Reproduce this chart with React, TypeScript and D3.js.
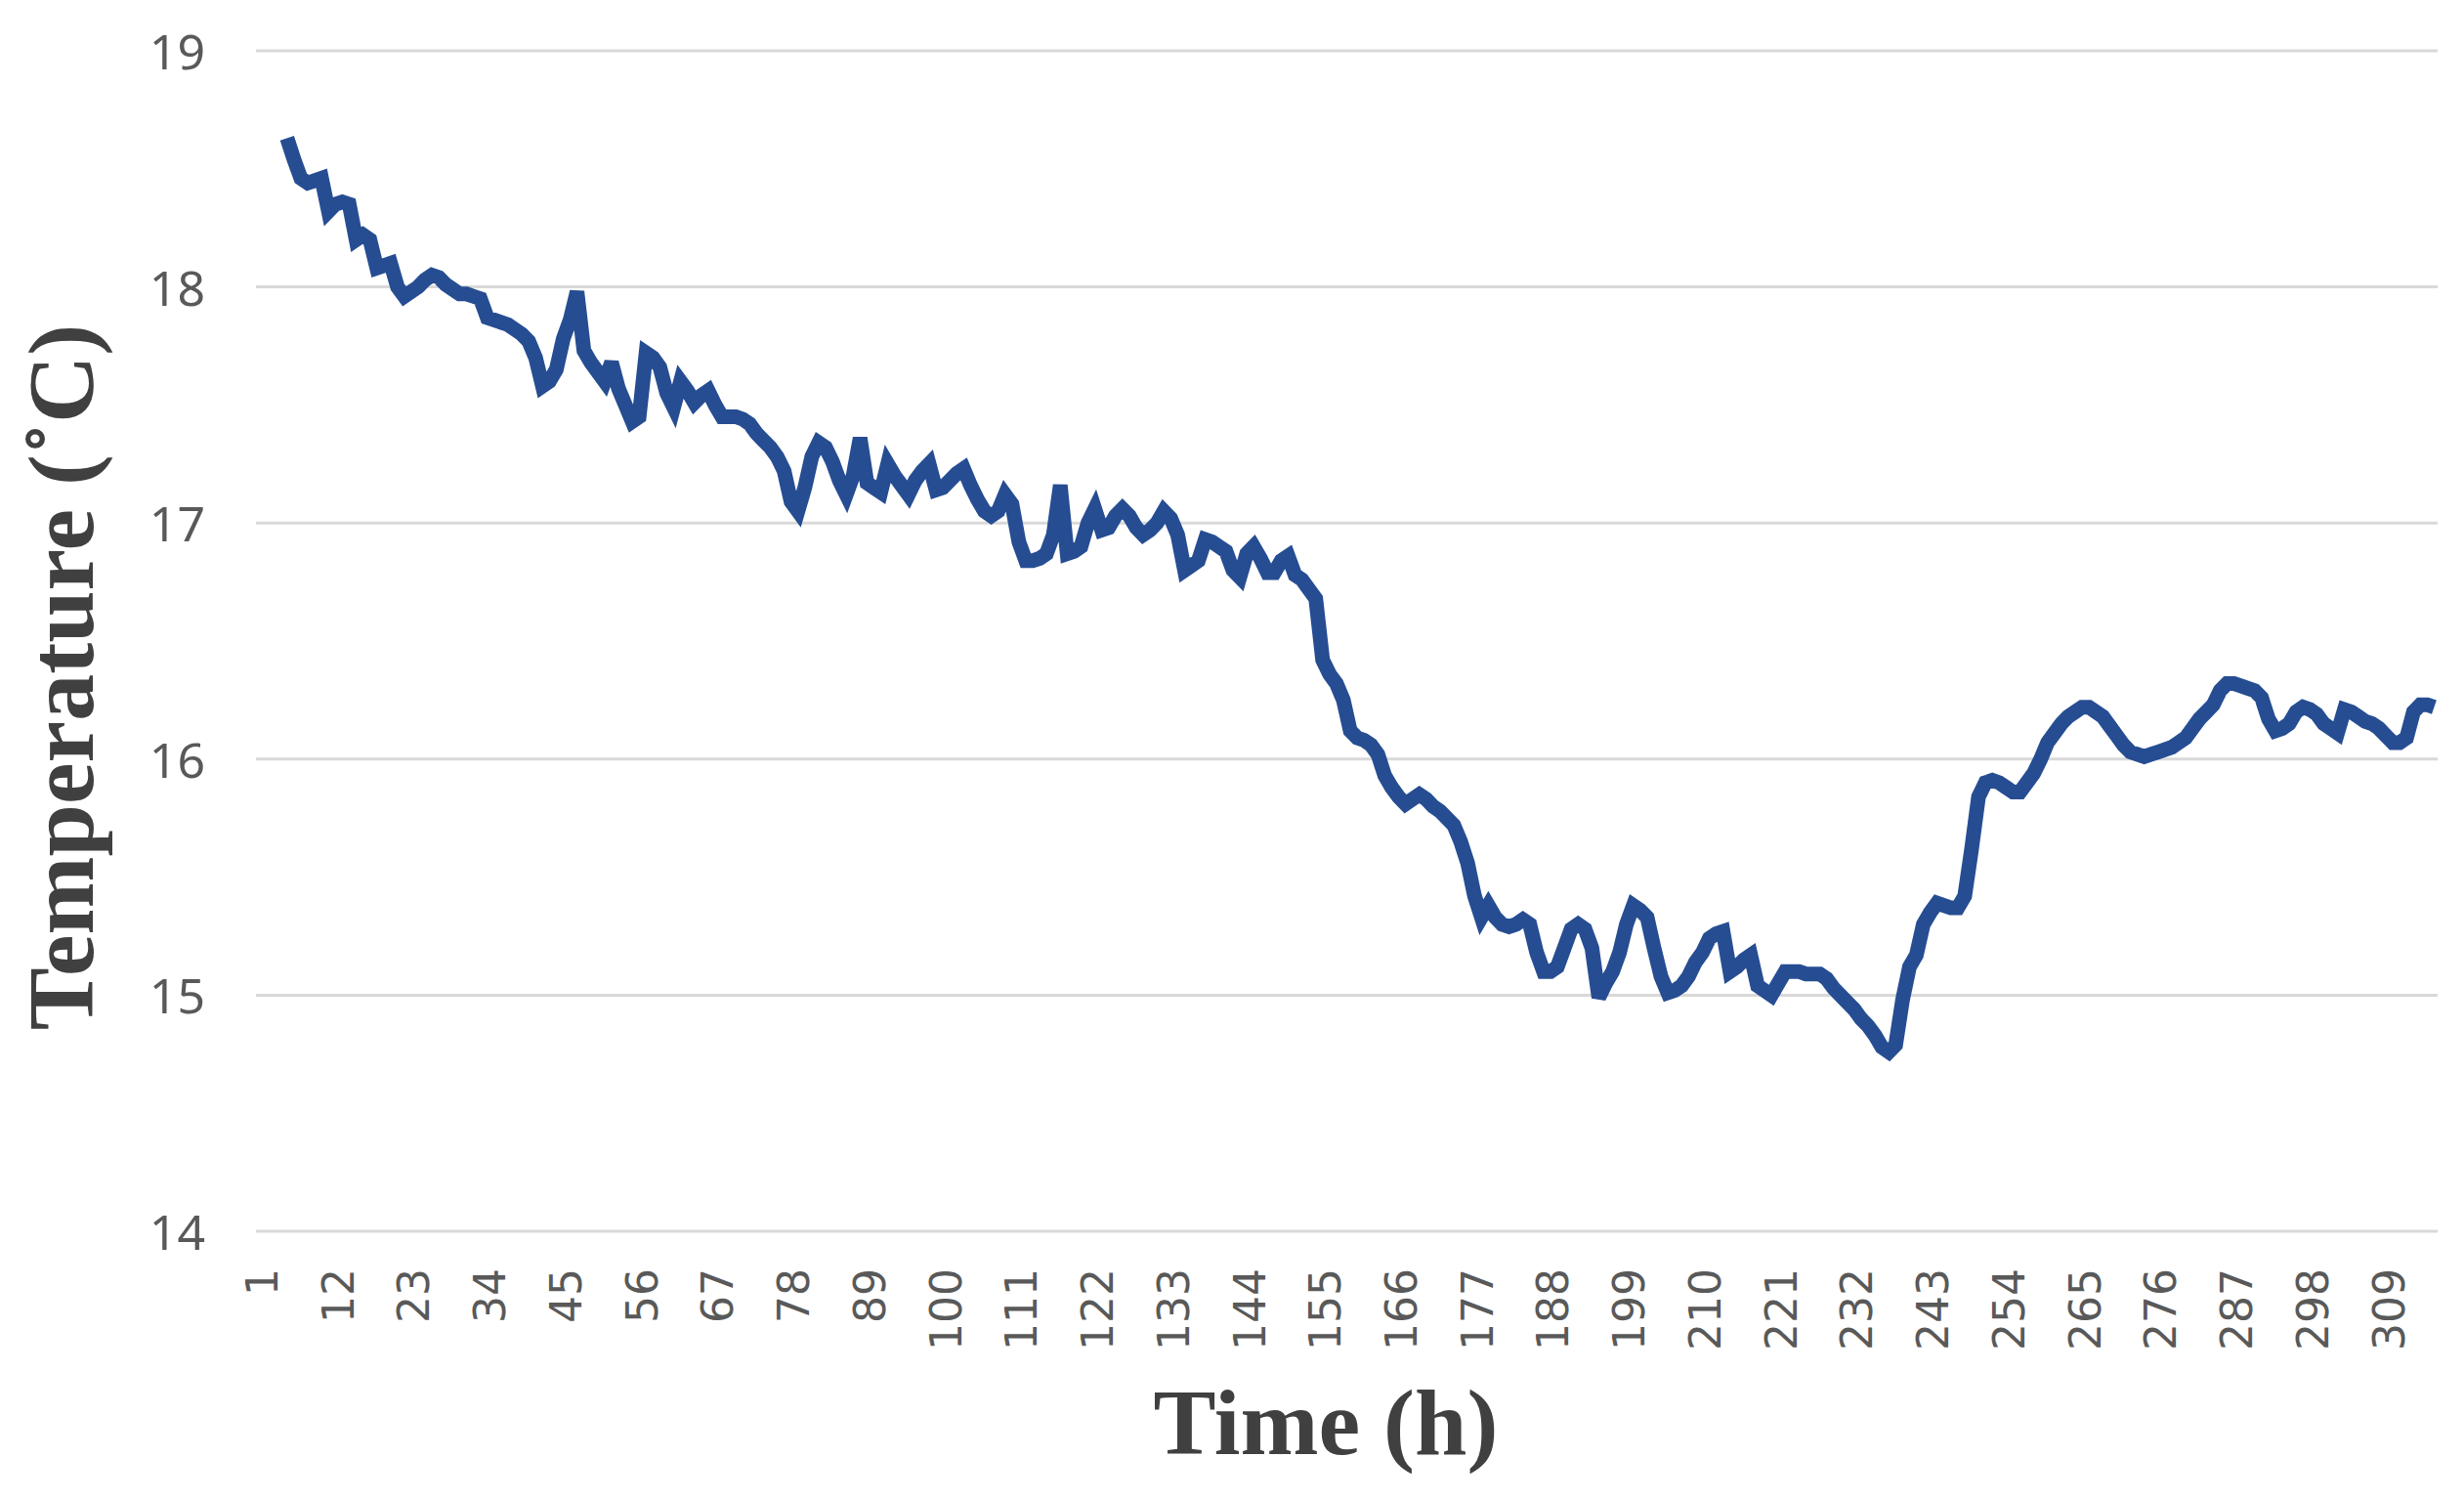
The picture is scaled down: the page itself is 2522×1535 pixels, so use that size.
import React from "react";
import * as d3 from "d3";

const hours: number[] = d3.range(1, 317);

// temperature readings (°C); first four hours have no reading
const temperature: (number | null)[] = [
  null, null, null, null,
  18.63, 18.54, 18.46, 18.44, 18.45, 18.46, 18.32, 18.35, 18.36, 18.35,
  18.2, 18.22, 18.2, 18.08, 18.09, 18.1, 18.0, 17.96, 17.98, 18.0,
  18.03, 18.05, 18.04, 18.01, 17.99, 17.97, 17.97, 17.96, 17.95, 17.87,
  17.86, 17.85, 17.84, 17.82, 17.8, 17.77, 17.7, 17.58, 17.6, 17.65,
  17.78, 17.86, 17.98, 17.73, 17.68, 17.64, 17.6, 17.68, 17.57, 17.5,
  17.43, 17.45, 17.72, 17.7, 17.66, 17.55, 17.49, 17.6, 17.56, 17.51,
  17.54, 17.56, 17.5, 17.45, 17.45, 17.45, 17.44, 17.42, 17.38, 17.35,
  17.32, 17.28, 17.22, 17.09, 17.05, 17.15, 17.28, 17.34, 17.32, 17.26,
  17.18, 17.12, 17.2, 17.36, 17.17, 17.15, 17.13, 17.25, 17.2, 17.16,
  17.12, 17.18, 17.22, 17.25, 17.14, 17.15, 17.18, 17.21, 17.23, 17.16,
  17.1, 17.05, 17.03, 17.05, 17.12, 17.08, 16.92, 16.84, 16.84, 16.85,
  16.87, 16.95, 17.16, 16.87, 16.88, 16.9, 17.0, 17.06, 16.97, 16.98,
  17.03, 17.06, 17.03, 16.98, 16.95, 16.97, 17.0, 17.05, 17.02, 16.95,
  16.8, 16.82, 16.84, 16.93, 16.92, 16.9, 16.88, 16.8, 16.77, 16.87,
  16.9, 16.85, 16.79, 16.79, 16.84, 16.86, 16.78, 16.76, 16.72, 16.68,
  16.42, 16.36, 16.32, 16.25, 16.12, 16.09, 16.08, 16.06, 16.02, 15.93,
  15.88, 15.84, 15.81, 15.83, 15.85, 15.83, 15.8, 15.78, 15.75, 15.72,
  15.65, 15.56, 15.42, 15.33, 15.38, 15.33, 15.3, 15.29, 15.3, 15.32,
  15.3, 15.18, 15.1, 15.1, 15.12, 15.2, 15.28, 15.3, 15.28, 15.2,
  14.99, 15.05, 15.1, 15.18, 15.3, 15.38, 15.36, 15.33, 15.2, 15.08,
  15.01, 15.02, 15.04, 15.08, 15.14, 15.18, 15.24, 15.26, 15.27, 15.1,
  15.12, 15.15, 15.17, 15.04, 15.02, 15.0, 15.05, 15.1, 15.1, 15.1,
  15.09, 15.09, 15.09, 15.07, 15.03, 15.0, 14.97, 14.94, 14.9, 14.87,
  14.83, 14.78, 14.76, 14.79, 14.98, 15.12, 15.17, 15.3, 15.35, 15.39,
  15.38, 15.37, 15.37, 15.42, 15.62, 15.84, 15.9, 15.91, 15.9, 15.88,
  15.86, 15.86, 15.9, 15.94, 16.0, 16.07, 16.11, 16.15, 16.18, 16.2,
  16.22, 16.22, 16.2, 16.18, 16.14, 16.1, 16.06, 16.03, 16.02, 16.01,
  16.02, 16.03, 16.04, 16.05, 16.07, 16.09, 16.13, 16.17, 16.2, 16.23,
  16.29, 16.32, 16.32, 16.31, 16.3, 16.29, 16.26, 16.17, 16.12, 16.13,
  16.15, 16.2, 16.22, 16.21, 16.19, 16.15, 16.13, 16.11, 16.21, 16.2,
  16.18, 16.16, 16.15, 16.13, 16.1, 16.07, 16.07, 16.09, 16.2, 16.23,
  16.23, 16.22,
];

const xTickLabels: number[] = [
  1, 12, 23, 34, 45, 56, 67, 78, 89, 100, 111, 122, 133, 144, 155, 166, 177,
  188, 199, 210, 221, 232, 243, 254, 265, 276, 287, 298, 309,
];
const yTicks: number[] = [14, 15, 16, 17, 18, 19];

const W = 2522;
const H = 1535;
const left = 262;
const right = 2495;
const top = 52;
const bottom = 1260;

export default function App() {
  const x = d3
    .scaleBand<number>()
    .domain(hours)
    .range([left, right])
    .paddingInner(0)
    .paddingOuter(0);
  const y = d3.scaleLinear().domain([14, 19]).range([bottom, top]);
  const cx = (h: number) => (x(h) as number) + x.bandwidth() / 2;

  const line = d3
    .line<number | null>()
    .defined((d) => d !== null)
    .x((_, i) => cx(hours[i]))
    .y((d) => y(d as number));

  const path = line(temperature) || "";

  return (
    <svg
      width={W}
      height={H}
      style={{ position: "absolute", left: 0, top: 0, background: "#fff" }}
    >
      <rect x={0} y={0} width={W} height={H} fill="#fff" />
      {yTicks.map((t) => (
        <g key={t}>
          <line
            x1={left}
            x2={right}
            y1={y(t)}
            y2={y(t)}
            stroke="#D9D9D9"
            strokeWidth={3}
          />
          <text
            x={210}
            y={y(t)}
            textAnchor="end"
            dominantBaseline="central"
            fontFamily="'Noto Sans', sans-serif"
            fontSize={50}
            fill="#595959"
          >
            {t}
          </text>
        </g>
      ))}
      {xTickLabels.map((h) => (
        <text
          key={h}
          transform={`translate(${cx(h) + 3},${1298}) rotate(-90)`}
          textAnchor="end"
          dominantBaseline="central"
          fontFamily="'DejaVu Sans', sans-serif"
          fontSize={44}
          fill="#595959"
        >
          {h}
        </text>
      ))}
      <path
        d={path}
        fill="none"
        stroke="#264D92"
        strokeWidth={15}
        strokeLinejoin="miter"
        strokeMiterlimit={3}
        strokeLinecap="butt"
      />
      <text
        x={1357}
        y={1488}
        textAnchor="middle"
        fontFamily="'Liberation Serif', 'Times New Roman', serif"
        fontWeight="bold"
        fontSize={96}
        fill="#404040"
      >
        Time (h)
      </text>
      <text
        transform={`translate(95,693) rotate(-90)`}
        textAnchor="middle"
        fontFamily="'Liberation Serif', 'Times New Roman', serif"
        fontWeight="bold"
        fontSize={96}
        fill="#404040"
      >
        Temperature (˚C)
      </text>
    </svg>
  );
}
